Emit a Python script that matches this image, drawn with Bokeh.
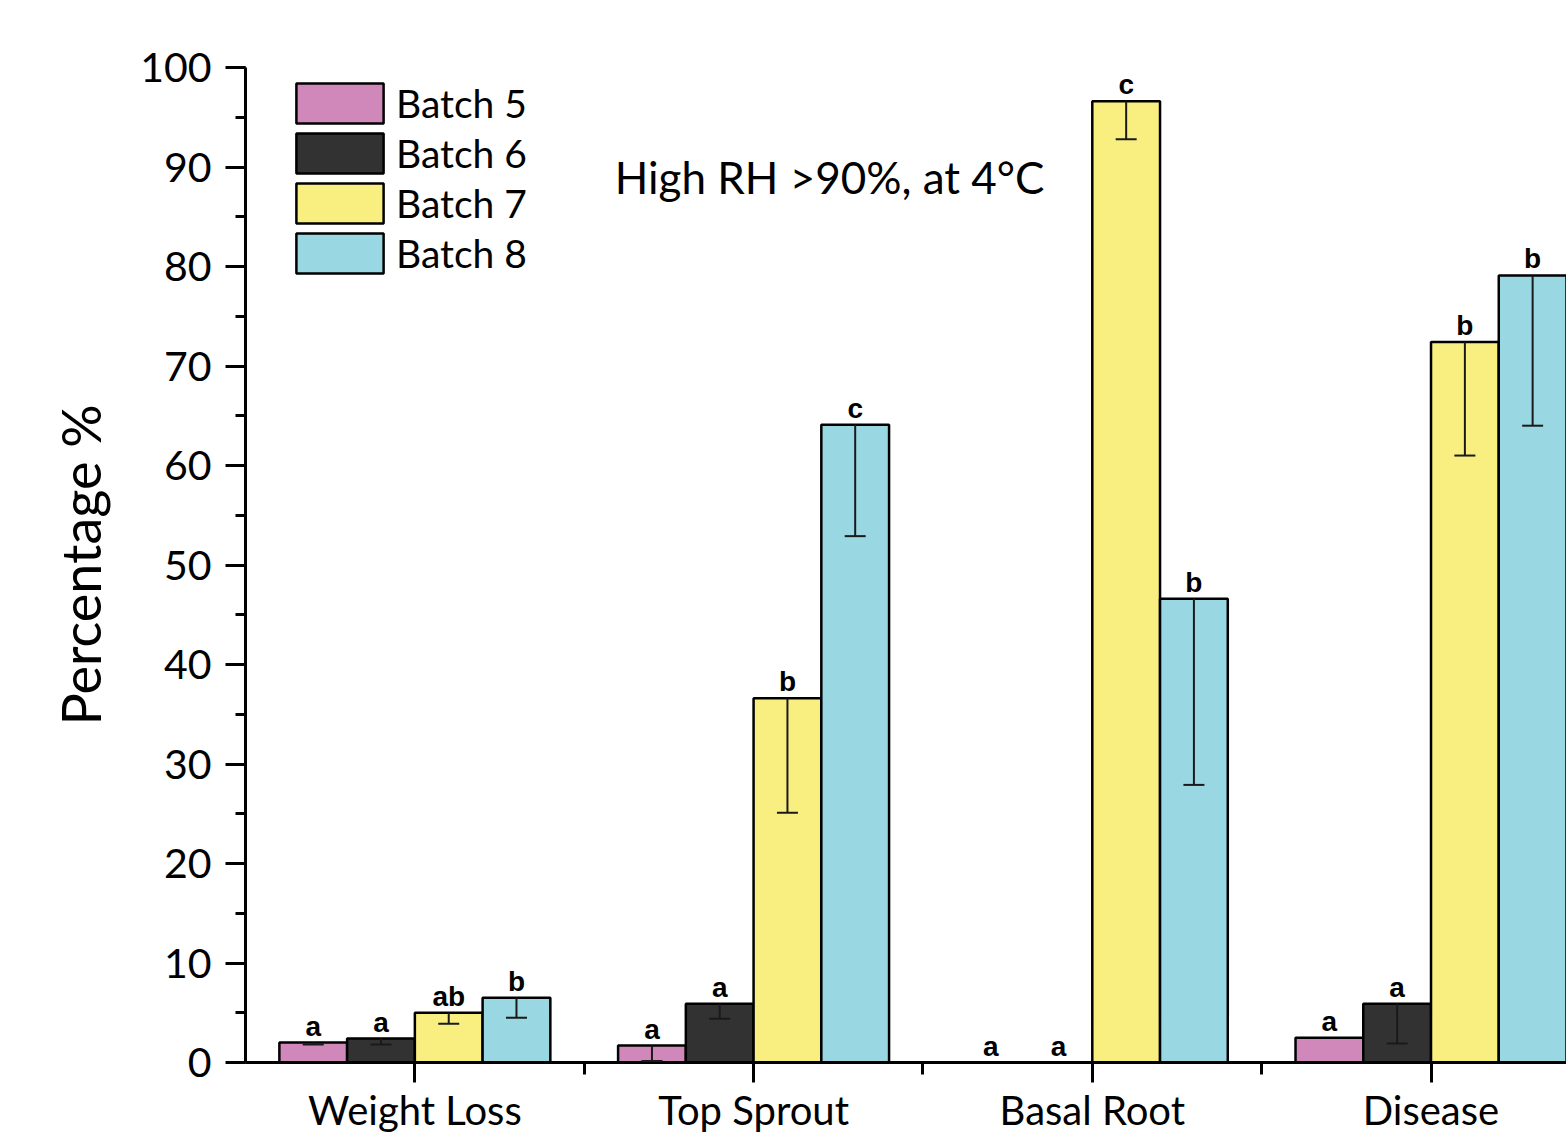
from bokeh.plotting import figure
from bokeh.models import (ColumnDataSource, Whisker, TeeHead, Legend, LegendItem,
                          Label, Range1d, FixedTicker, SingleIntervalTicker)
from bokeh.core.properties import value
from bokeh.embed import file_html
from bokeh.resources import INLINE

categories = ["Weight Loss", "Top Sprout", "Basal Root", "Disease"]
series_names = ["Batch 5", "Batch 6", "Batch 7", "Batch 8"]
batch5 = [2.0, 1.7, 0.0, 2.5]
batch6 = [2.4, 5.9, 0.0, 5.9]
batch7 = [5.0, 36.6, 96.6, 72.4]
batch8 = [6.5, 64.1, 46.6, 79.1]
err5 = [0.2, 1.55, 0.0, 0.0]
err6 = [0.6, 1.5, 0.0, 4.0]
err7 = [1.1, 11.5, 3.8, 11.4]
err8 = [2.0, 11.2, 18.7, 15.1]
letters5 = ["a", "a", "a", "a"]
letters6 = ["a", "a", "a", "a"]
letters7 = ["ab", "b", "c", "b"]
letters8 = ["b", "c", "b", "b"]

colors = ["#D088BB", "#323232", "#F9EF80", "#99D8E3"]
offsets = [-0.3, -0.1, 0.1, 0.3]
FONT = "Lato"

p = figure(width=1566, height=1136, output_backend="svg", toolbar_location=None,
           x_range=Range1d(-0.5, 3.4), y_range=Range1d(0, 100),
           min_border_left=245, min_border_top=67, min_border_right=0,
           min_border_bottom=0)
p.outline_line_color = None
p.xgrid.visible = False
p.ygrid.visible = False
p.background_fill_color = "white"

all_vals = [batch5, batch6, batch7, batch8]
all_errs = [err5, err6, err7, err8]
all_letters = [letters5, letters6, letters7, letters8]
items = []
for name, vals, errs, lets, col, off in zip(series_names, all_vals, all_errs,
                                            all_letters, colors, offsets):
    xs = [i + off for i in range(len(categories))]
    src = ColumnDataSource(dict(x=xs, top=vals))
    r = p.vbar(x="x", top="top", width=0.2, bottom=0, source=src,
               fill_color=col, line_color="black", line_width=2.5)
    items.append(LegendItem(label=name, renderers=[r]))
    wx = [x for x, e in zip(xs, errs) if e > 0]
    wlo = [v - e for v, e in zip(vals, errs) if e > 0]
    whi = [v for v, e in zip(vals, errs) if e > 0]
    wsrc = ColumnDataSource(dict(x=wx, lo=wlo, hi=whi))
    w = Whisker(base="x", lower="lo", upper="hi", source=wsrc, dimension="height",
                line_color="#1a1a1a", line_width=2, upper_head=None,
                lower_head=TeeHead(size=21, line_width=2, line_color="#1a1a1a"),
                level="annotation")
    p.add_layout(w)
    tsrc = ColumnDataSource(dict(x=xs, y=vals, t=lets))
    p.text(x="x", y="y", text="t", source=tsrc, text_font=value("Liberation Sans"),
           text_font_style="bold", text_font_size="28px", text_align="center",
           text_baseline="bottom", y_offset=-1, text_color="black")

legend = Legend(items=items, location=(40, 784), glyph_width=109, glyph_height=50,
                spacing=0, padding=0, margin=0, label_standoff=2,
                label_text_font=FONT, label_text_font_size="39px",
                label_text_color="black",
                border_line_color=None, background_fill_alpha=0)
p.add_layout(legend, "center")

p.add_layout(Label(x=0.59, y=89, text="High RH >90%, at 4°C", text_font=FONT,
                   text_font_size="44px", text_baseline="middle", text_color="black"))

# y axis
ya = p.yaxis[0]
ya.ticker = SingleIntervalTicker(interval=10, num_minor_ticks=2)
ya.axis_line_width = 3
ya.major_tick_line_width = 3
ya.minor_tick_line_width = 3
ya.major_tick_out = 20
ya.major_tick_in = 0
ya.minor_tick_out = 10
ya.minor_tick_in = 0
ya.major_label_text_font = FONT
ya.major_label_text_font_size = "41px"
ya.major_label_text_color = "black"
ya.major_label_standoff = 14
ya.axis_label = "Percentage %"
ya.axis_label_text_font = FONT
ya.axis_label_text_font_size = "54px"
ya.axis_label_text_font_style = "normal"
ya.axis_label_text_color = "black"
ya.axis_label_standoff = 24

# x axis
xa = p.xaxis[0]
xa.ticker = FixedTicker(ticks=list(range(len(categories))), minor_ticks=[0.5, 1.5, 2.5])
xa.major_label_overrides = {i: c for i, c in enumerate(categories)}
xa.axis_line_width = 3
xa.major_tick_line_width = 3
xa.minor_tick_line_width = 3
xa.major_tick_out = 20
xa.major_tick_in = 0
xa.minor_tick_out = 12
xa.minor_tick_in = 0
xa.major_label_text_font = FONT
xa.major_label_text_font_size = "40px"
xa.major_label_text_color = "black"
xa.major_label_standoff = 3

open("out.html", "w").write(file_html(p, INLINE))
